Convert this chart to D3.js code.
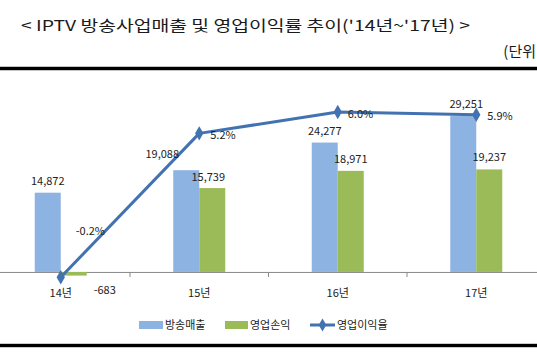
<!DOCTYPE html>
<html><head><meta charset="utf-8">
<script src="https://cdn.jsdelivr.net/npm/d3@7"></script>
<style>
html,body{margin:0;padding:0;background:#fff;overflow:hidden;}
svg{display:block;font-family:"Noto Sans CJK KR","Noto Sans",sans-serif;}
</style></head><body>
<svg id="c" width="537" height="360"></svg>
<script>
const categories = ["14년","15년","16년","17년"];
const sales = [14872, 19088, 24277, 29251];       // 방송매출
const profit = [-683, 15739, 18971, 19237];       // 영업손익
const margin = [-0.2, 5.2, 6.0, 5.9];             // 영업이익율 (%)
const seriesNames = ["방송매출","영업손익","영업이익율"];
const titleText = "< IPTV 방송사업매출 및 영업이익률 추이('14년~'17년) >";
const unitText = "(단위";

const colors = {sales:"#8DB3E2", profit:"#9BBB59", line:"#4372B0"};
const svg = d3.select("#c");

// title & unit
svg.append("text").attr("x",21).attr("y",31).attr("font-size",15).attr("fill","#1a1a1a")
  .attr("textLength",449).attr("lengthAdjust","spacingAndGlyphs").text(titleText);
svg.append("text").attr("x",536).attr("y",57).attr("text-anchor","end").attr("font-size",15).attr("fill","#1a1a1a").text(unitText);

// frame lines
svg.append("rect").attr("x",0).attr("y",66.5).attr("width",537).attr("height",4).attr("fill","#888");
svg.append("rect").attr("x",0).attr("y",67).attr("width",537).attr("height",3).attr("fill","#000");
svg.append("rect").attr("x",0).attr("y",343.5).attr("width",537).attr("height",4).attr("fill","#999");
svg.append("rect").attr("x",0).attr("y",344).attr("width",537).attr("height",3).attr("fill","#000");

// scales
const x0 = d3.scaleBand().domain(categories).range([-8.5, 545.5]).padding(0);
const x1 = d3.scaleBand().domain(["sales","profit"]).range([-26, 26]).padding(0);
const y = d3.scaleLinear().domain([-5000, 35000]).range([298.6, 85.4]);
const y2 = d3.scaleLinear().domain([-1, 7]).range([298.6, 85.4]);
const cx = c => x0(c) + x0.bandwidth()/2;

// baseline axis
const axisG = svg.append("g").attr("transform",`translate(0,${y(0)})`);
axisG.call(d3.axisBottom(x0).tickSize(0).tickFormat(""));
axisG.select(".domain").attr("stroke","#888").attr("stroke-width",1);
axisG.selectAll("line.sep").data(categories.slice(1)).join("line").attr("class","sep")
  .attr("x1",c=>x0(c)).attr("x2",c=>x0(c)).attr("y1",0).attr("y2",5).attr("stroke","#888");

// bars
const bars = svg.append("g");
categories.forEach((c,i)=>{
  [["sales",sales[i]],["profit",profit[i]]].forEach(([k,v])=>{
    bars.append("rect")
      .attr("x", cx(c)+x1(k)).attr("width", x1.bandwidth())
      .attr("y", Math.min(y(v), y(0))).attr("height", Math.abs(y(v)-y(0)))
      .attr("fill", colors[k]);
  });
});

// line
const pts = categories.map((c,i)=>[cx(c), y2(margin[i])]);
svg.append("path").attr("d", d3.line()(pts)).attr("fill","none")
  .attr("stroke",colors.line).attr("stroke-width",3).attr("stroke-linejoin","round");
svg.append("g").selectAll("path").data(pts).join("path")
  .attr("transform",d=>`translate(${d[0]},${d[1]})`)
  .attr("d", d3.symbol(d3.symbolDiamond, 60)).attr("fill",colors.line);

// labels
const fmt = v => d3.format(",")(v).replace("\u2212","-");
const lab = svg.append("g").attr("font-size",11).attr("fill","#222");
const salesNudge = [[0,-8],[-24,-12],[0,-8],[3,-8]];
const profitNudge = [[31,22],[-4,-7],[0,-8],[0,-8]];
categories.forEach((c,i)=>{
  const bs = cx(c)+x1("sales")+x1.bandwidth()/2;
  lab.append("text").attr("text-anchor","middle")
    .attr("x", bs+salesNudge[i][0]).attr("y", y(sales[i])+salesNudge[i][1]).text(fmt(sales[i]));
  const bp = cx(c)+x1("profit")+x1.bandwidth()/2;
  lab.append("text").attr("text-anchor","middle")
    .attr("x", bp+profitNudge[i][0]).attr("y", (profit[i]<0?y(0):y(profit[i]))+profitNudge[i][1]).text(fmt(profit[i]));
});
const lineNudge = [[15,-42],[11,6],[10,6],[11,5]];
pts.forEach((p,i)=>{
  lab.append("text").attr("x",p[0]+lineNudge[i][0]).attr("y",p[1]+lineNudge[i][1])
    .text(margin[i].toFixed(1)+"%");
});
lab.selectAll("text.cat").data(categories).join("text").attr("class","cat")
  .attr("text-anchor","middle").attr("x",c=>cx(c)).attr("y",297).text(c=>c);

// legend
const lg = svg.append("g").attr("font-size",11).attr("fill","#222");
lg.append("rect").attr("x",139).attr("y",321).attr("width",24).attr("height",8).attr("fill",colors.sales);
lg.append("text").attr("x",165).attr("y",329).text(seriesNames[0]);
lg.append("rect").attr("x",225).attr("y",321).attr("width",23).attr("height",8).attr("fill",colors.profit);
lg.append("text").attr("x",250).attr("y",329).text(seriesNames[1]);
lg.append("line").attr("x1",310).attr("x2",335).attr("y1",325).attr("y2",325).attr("stroke",colors.line).attr("stroke-width",3);
lg.append("path").attr("transform","translate(322.5,325)").attr("d",d3.symbol(d3.symbolDiamond,50)).attr("fill",colors.line);
lg.append("text").attr("x",337).attr("y",329).text(seriesNames[2]);
</script>
</body></html>
